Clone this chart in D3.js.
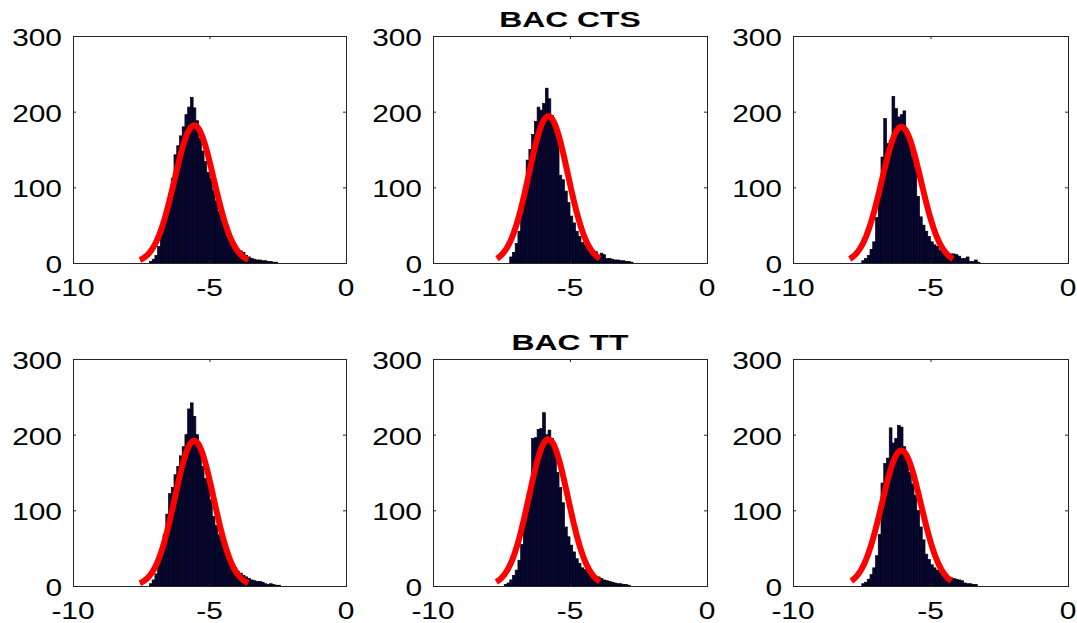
<!DOCTYPE html>
<html>
<head>
<meta charset="utf-8">
<script src="https://cdn.jsdelivr.net/npm/d3@7.9.0/dist/d3.min.js"></script>
<style>
  body { margin: 0; background: #fff; }
  svg { display: block; font-family: "Liberation Sans", Arial, sans-serif; }
  .tick-label { font-size: 23px; fill: #000; }
  .title { font-size: 22px; font-weight: bold; fill: #000; }
</style>
</head>
<body>
<div id="chart"></div>
<script>
// histogram counts, bins of width 0.1 starting at binStarts[i]
const binWidth = 0.1;
const binStarts = [-7.2, -7.2, -7.5, -7.2, -7.4, -7.5];

const ctsA = [2,5,10,22,38,55,75,92,112,143,155,168,180,196,206,219,205,188,165,148,134,120,112,96,82,68,56,47,36,28,24,19,17,16,14,10,8,6,5,4,4,3,3,2,2,1,1];
const ctsB = [8,14,26,42,65,95,136,150,170,187,206,202,211,231,217,195,185,176,116,110,95,80,62,53,42,35,27,24,18,17,15,15,8,13,11,6,6,5,4,4,3,3,2,2,1];
const ctsC = [3,6,10,18,28,60,100,140,191,158,162,220,204,193,196,201,170,160,140,127,88,61,50,42,35,28,24,22,17,15,11,11,12,12,11,9,6,6,8,2,2,4,1];
const ttA  = [3,8,16,28,45,68,95,122,130,147,158,172,184,200,234,242,224,200,178,158,142,136,114,92,80,68,58,48,40,34,28,24,19,17,14,12,10,8,7,6,6,5,3,2,3,2,1,1];
const ttB  = [2,4,8,14,21,34,55,100,114,120,195,196,207,208,229,200,206,195,175,150,130,110,78,65,54,45,36,30,24,22,20,21,17,13,12,10,8,7,6,5,4,3,3,2,2,1];
const ttC  = [3,5,9,15,24,40,68,136,162,169,209,189,195,212,210,184,165,150,135,120,100,78,61,42,35,28,24,21,18,13,12,11,11,10,9,8,7,4,3,3,2,2];
const panelCounts = [ctsA, ctsB, ctsC, ttA, ttB, ttC];

// normal fit for each panel: mean, sd, peak height, plotted range
const fitMu    = [-5.56, -5.79, -6.06, -5.56, -5.79, -6.06];
const fitSigma = [0.72, 0.71, 0.71, 0.71, 0.71, 0.71];
const fitPeak  = [182, 194, 180, 192, 194, 179];
const fitLo    = [-7.55, -7.67, -7.94, -7.55, -7.69, -7.88];
const fitHi    = [-3.58, -3.91, -4.18, -3.58, -3.91, -4.24];

const titles = ['', 'BAC CTS', '', '', 'BAC TT', ''];
const xTicks = [-10, -5, 0];
const yTicks = [0, 100, 200, 300];

const W = 1077, H = 623;
const colLeft = [73, 433, 793], colRight = [346, 707, 1068];
const rowTop = [36, 359], rowBottom = [263, 586];
const stretch = 1.3;   // the reference text is drawn wider than normal

const svg = d3.select('#chart').append('svg')
  .attr('width', W).attr('height', H);

panelCounts.forEach((counts, i) => {
  const c = i % 3, r = Math.floor(i / 3);
  const x = d3.scaleLinear().domain([-10, 0]).range([colLeft[c], colRight[c]]);
  const y = d3.scaleLinear().domain([0, 300]).range([rowBottom[r], rowTop[r]]);
  const g = svg.append('g');

  // bars
  g.append('g').selectAll('rect')
    .data(counts)
    .join('rect')
      .attr('x', (d, k) => x(binStarts[i] + k * binWidth))
      .attr('width', (d, k) => x(binStarts[i] + (k + 1) * binWidth) - x(binStarts[i] + k * binWidth))
      .attr('y', d => y(d))
      .attr('height', d => y(0) - y(d))
      .attr('fill', '#06063a')
      .attr('stroke', '#000')
      .attr('stroke-width', 0.7);

  // fitted normal curve
  const xs = d3.range(0, 101).map(t => fitLo[i] + (fitHi[i] - fitLo[i]) * t / 100);
  const line = d3.line()
    .x(v => x(v))
    .y(v => y(fitPeak[i] * Math.exp(-Math.pow(v - fitMu[i], 2) / (2 * fitSigma[i] * fitSigma[i]))));
  g.append('path')
    .datum(xs)
    .attr('d', line)
    .attr('fill', 'none')
    .attr('stroke', '#ff0000')
    .attr('stroke-width', 6)
    .attr('stroke-linejoin', 'round');

  // box and inner ticks
  const axisStyle = s => {
    s.select('.domain').remove();
    s.selectAll('.tick line').attr('stroke', '#262626');
    s.selectAll('.tick text').remove();
  };
  const tl = 3;
  g.append('g').attr('transform', `translate(0,${y(0)})`)
    .call(d3.axisBottom(x).tickValues(xTicks).tickSize(-tl)).call(axisStyle);
  g.append('g').attr('transform', `translate(0,${y(300)})`)
    .call(d3.axisTop(x).tickValues(xTicks).tickSize(-tl)).call(axisStyle);
  g.append('g').attr('transform', `translate(${x(-10)},0)`)
    .call(d3.axisLeft(y).tickValues(yTicks).tickSize(-tl)).call(axisStyle);
  g.append('g').attr('transform', `translate(${x(0)},0)`)
    .call(d3.axisRight(y).tickValues(yTicks).tickSize(-tl)).call(axisStyle);

  g.append('rect')
    .attr('x', x(-10) + 0.5).attr('y', y(300) + 0.5)
    .attr('width', x(0) - x(-10)).attr('height', y(0) - y(300))
    .attr('fill', 'none').attr('stroke', '#262626').attr('stroke-width', 1);

  // tick labels
  g.selectAll('.xl').data(xTicks).join('text')
    .attr('class', 'tick-label')
    .attr('transform', d => `translate(${x(d)},${y(0) + 33}) scale(${stretch},1)`)
    .attr('text-anchor', 'middle')
    .text(d => d);
  g.selectAll('.yl').data(yTicks).join('text')
    .attr('class', 'tick-label')
    .attr('transform', d => `translate(${x(-10) - 11},${y(d) + 10}) scale(${stretch},1)`)
    .attr('text-anchor', 'end')
    .text(d => d);

  if (titles[i]) {
    g.append('text').attr('class', 'title')
      .attr('transform', `translate(${(x(-10) + x(0)) / 2},${y(300) - 9}) scale(1.45,1)`)
      .attr('text-anchor', 'middle')
      .text(titles[i]);
  }
});
</script>
</body>
</html>
